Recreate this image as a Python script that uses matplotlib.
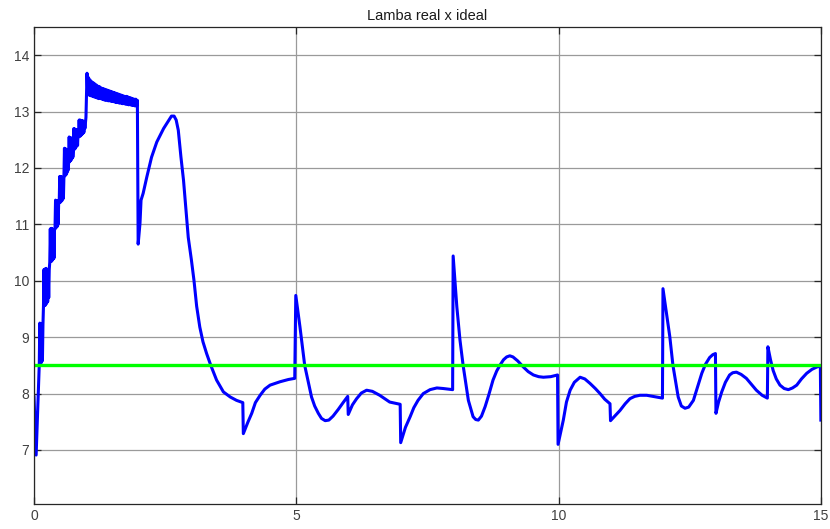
import matplotlib
matplotlib.use("Agg")
import matplotlib.pyplot as plt

plt.rcParams['font.family'] = ['Liberation Sans', 'DejaVu Sans']

# measured lambda, start-up stair (time in s)
t_rise = [
    0.00, 0.04,
    0.10, 0.11, 0.12, 0.13, 0.14, 0.15, 0.16, 0.17,
    0.18, 0.19, 0.20, 0.21, 0.22, 0.23, 0.24, 0.25, 0.26, 0.27, 0.28, 0.29,
    0.30, 0.31, 0.32, 0.33, 0.34, 0.35, 0.36, 0.37, 0.38, 0.39,
    0.40, 0.41, 0.42, 0.43, 0.44, 0.45, 0.46, 0.47,
    0.48, 0.49, 0.50, 0.51, 0.52, 0.53, 0.54, 0.55, 0.56,
    0.57, 0.58, 0.59, 0.60, 0.61, 0.62, 0.63, 0.64, 0.65,
    0.66, 0.67, 0.68, 0.69, 0.70, 0.71, 0.72, 0.73, 0.74,
    0.75, 0.76, 0.77, 0.78, 0.79, 0.80, 0.81, 0.82, 0.83, 0.84,
    0.85, 0.86, 0.87, 0.88, 0.89, 0.90, 0.91, 0.92, 0.93, 0.94, 0.95, 0.96, 0.97,
    0.99,
]
lam_rise = [
    7.94, 6.91,
    8.52, 9.25, 8.53, 9.24, 8.55, 9.23, 8.58, 9.22,
    9.55, 10.20, 9.56, 10.21, 9.57, 10.22, 9.60, 10.20, 9.63, 10.19, 9.70, 10.20,
    10.33, 10.92, 10.34, 10.93, 10.35, 10.92, 10.38, 10.91, 10.40, 10.90,
    10.92, 11.43, 10.94, 11.42, 10.96, 11.42, 11.00, 11.40,
    11.38, 11.85, 11.39, 11.85, 11.41, 11.84, 11.43, 11.83, 11.46,
    11.85, 12.35, 11.86, 12.34, 11.88, 12.33, 11.92, 12.32, 11.96,
    12.10, 12.55, 12.11, 12.54, 12.13, 12.53, 12.16, 12.52, 12.19,
    12.32, 12.70, 12.33, 12.69, 12.35, 12.68, 12.38, 12.67, 12.40, 12.66,
    12.55, 12.85, 12.56, 12.85, 12.57, 12.84, 12.59, 12.84, 12.61, 12.83, 12.63, 12.82, 12.70,
    12.90,
]

# high plateau after the 1 s step
t_plateau = [
    1.010, 1.025, 1.040, 1.055, 1.070, 1.085, 1.100, 1.115, 1.130, 1.145,
    1.160, 1.175, 1.190, 1.205, 1.220, 1.235, 1.250, 1.265, 1.280, 1.295,
    1.310, 1.325, 1.340, 1.355, 1.370, 1.385, 1.400, 1.415, 1.430, 1.445,
    1.460, 1.475, 1.490, 1.505, 1.520, 1.535, 1.550, 1.565, 1.580, 1.595,
    1.610, 1.625, 1.640, 1.655, 1.670, 1.685, 1.700, 1.715, 1.730, 1.745,
    1.760, 1.775, 1.790, 1.805, 1.820, 1.835, 1.850, 1.865, 1.880, 1.895,
    1.910, 1.925, 1.940, 1.955, 1.970,
]
lam_plateau = [
    13.68, 13.30, 13.60, 13.29, 13.56, 13.28, 13.53, 13.27, 13.51, 13.26,
    13.49, 13.25, 13.47, 13.24, 13.45, 13.23, 13.44, 13.23, 13.42, 13.22,
    13.41, 13.21, 13.40, 13.20, 13.39, 13.20, 13.38, 13.19, 13.37, 13.19,
    13.36, 13.18, 13.35, 13.18, 13.34, 13.17, 13.33, 13.16, 13.32, 13.16,
    13.31, 13.15, 13.30, 13.15, 13.29, 13.14, 13.28, 13.14, 13.27, 13.13,
    13.27, 13.13, 13.26, 13.12, 13.25, 13.12, 13.24, 13.11, 13.23, 13.11,
    13.22, 13.10, 13.22, 13.10, 13.20,
]

# transient response for the rest of the run
t_tail = [
    1.985, 2.02, 2.04, 2.08, 2.15, 2.24, 2.34, 2.47, 2.62, 2.67,
    2.71, 2.75, 2.80, 2.85, 2.94, 3.00, 3.05, 3.10, 3.16, 3.22,
    3.29, 3.37, 3.48, 3.61, 3.74, 3.86, 3.98,
    3.99, 4.08, 4.15, 4.22, 4.31, 4.40, 4.50, 4.69, 4.85, 4.97,
    4.99, 5.07, 5.16, 5.29, 5.35, 5.42, 5.48, 5.55, 5.62, 5.70, 5.80, 5.90, 5.98,
    5.99, 6.07, 6.15, 6.24, 6.34, 6.45, 6.59, 6.70, 6.78, 6.88, 6.98,
    6.99, 7.08, 7.17, 7.24, 7.32, 7.42, 7.55, 7.68, 7.80, 7.98,
    7.99, 8.06, 8.12, 8.18, 8.28, 8.37, 8.42, 8.47, 8.53, 8.60, 8.67, 8.75,
    8.82, 8.88, 8.95, 9.01, 9.07, 9.13, 9.22, 9.33, 9.42, 9.52, 9.62, 9.71, 9.85, 9.98,
    9.99, 10.09, 10.15, 10.22, 10.30, 10.41, 10.50, 10.60, 10.70, 10.79, 10.88, 10.98,
    10.99, 11.17, 11.27, 11.36, 11.45, 11.55, 11.68, 11.80, 11.98,
    11.99, 12.12, 12.18, 12.28, 12.34, 12.41, 12.48, 12.57, 12.65, 12.73, 12.80, 12.88, 12.94, 12.99,
    13.00, 13.05, 13.11, 13.18, 13.26, 13.32, 13.39, 13.48, 13.58, 13.68, 13.77, 13.88, 13.98,
    13.99, 14.04, 14.09, 14.15, 14.22, 14.30, 14.38, 14.46, 14.54, 14.63, 14.73, 14.83, 14.92,
    14.99, 15.00,
]
lam_tail = [
    10.65, 11.02, 11.43, 11.55, 11.84, 12.19, 12.46, 12.70, 12.92, 12.92,
    12.85, 12.67, 12.20, 11.78, 10.77, 10.37, 10.00, 9.55, 9.18, 8.92,
    8.71, 8.50, 8.24, 8.03, 7.94, 7.88, 7.84,
    7.29, 7.50, 7.65, 7.84, 7.97, 8.08, 8.15, 8.21, 8.25, 8.27,
    9.74, 9.18, 8.50, 7.94, 7.78, 7.65, 7.56, 7.52, 7.53, 7.60, 7.72, 7.85, 7.95,
    7.63, 7.80, 7.91, 8.01, 8.06, 8.04, 7.97, 7.90, 7.85, 7.83, 7.81,
    7.13, 7.40, 7.59, 7.75, 7.88, 8.00, 8.07, 8.10, 8.09, 8.07,
    10.44, 9.54, 8.95, 8.50, 7.88, 7.59, 7.54, 7.53, 7.60, 7.77, 7.98, 8.24,
    8.40, 8.50, 8.60, 8.65, 8.67, 8.65, 8.58, 8.47, 8.39, 8.33, 8.30, 8.29, 8.30, 8.33,
    7.10, 7.53, 7.85, 8.06, 8.20, 8.29, 8.26, 8.18, 8.09, 8.00, 7.90, 7.82,
    7.52, 7.70, 7.82, 7.91, 7.95, 7.97, 7.97, 7.95, 7.92,
    9.86, 9.01, 8.50, 7.94, 7.78, 7.74, 7.76, 7.88, 8.12, 8.36, 8.52, 8.64, 8.69, 8.71,
    7.65, 7.85, 8.03, 8.20, 8.33, 8.37, 8.38, 8.34, 8.27, 8.16, 8.06, 7.97, 7.92,
    8.83, 8.60, 8.41, 8.26, 8.15, 8.09, 8.07, 8.10, 8.15, 8.26, 8.36, 8.43, 8.47,
    8.49, 7.53,
]

t_real = t_rise + t_plateau + t_tail
lambda_real = lam_rise + lam_plateau + lam_tail

# reference lambda
t_ideal = [0, 15]
lambda_ideal = [8.5, 8.5]

x_ticks = [0, 5, 10, 15]
y_ticks = [7, 8, 9, 10, 11, 12, 13, 14]

fig = plt.figure(figsize=(8.30, 5.29), dpi=100)
ax = fig.add_axes([0.041, 0.047, 0.948, 0.902])

ax.plot(t_real, lambda_real, color='#0000ff', lw=2.2, solid_joinstyle='round')
ax.plot(t_ideal, lambda_ideal, color='#00ff00', lw=2.4)

ax.set_xlim(0, 15)
ax.set_ylim(6.04, 14.5)
ax.set_xticks(x_ticks)
ax.set_yticks(y_ticks)
ax.grid(True, color='#9a9a9a', lw=0.9)
ax.set_axisbelow(True)

ax.tick_params(direction='in', length=5, width=0.9, colors='#262626',
               labelcolor='#404040', labelsize=10, top=True, right=True)
for sp in ax.spines.values():
    sp.set_color('#262626')
    sp.set_linewidth(0.9)

ax.set_title('Lamba real x ideal', fontsize=10.5, color='#1a1a1a', pad=5)

fig.savefig('out.png', dpi=100)
